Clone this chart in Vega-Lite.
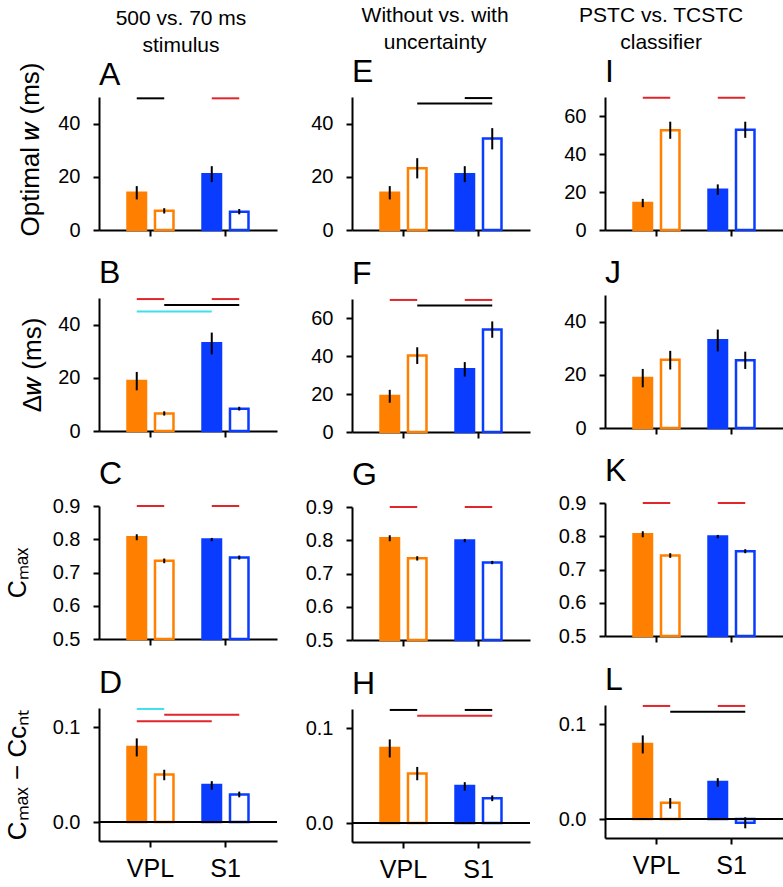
{
  "$schema": "https://vega.github.io/schema/vega-lite/v6.json",
  "padding": {"left": 4, "top": 4, "right": 0, "bottom": 0},
  "datasets": {
    "bars": [
      {"panel": "A", "group": "VPL", "cond": "filled", "mean": 14, "lo": 11.5, "hi": 16.5},
      {"panel": "A", "group": "VPL", "cond": "open", "mean": 7.2, "lo": 6.2, "hi": 8.2},
      {"panel": "A", "group": "S1", "cond": "filled", "mean": 21, "lo": 18, "hi": 24},
      {"panel": "A", "group": "S1", "cond": "open", "mean": 6.9, "lo": 5.9, "hi": 7.9},
      {"panel": "E", "group": "VPL", "cond": "filled", "mean": 14, "lo": 11.5, "hi": 16.5},
      {"panel": "E", "group": "VPL", "cond": "open", "mean": 23.2, "lo": 19.4, "hi": 27},
      {"panel": "E", "group": "S1", "cond": "filled", "mean": 21, "lo": 18, "hi": 24},
      {"panel": "E", "group": "S1", "cond": "open", "mean": 34.4, "lo": 30.3, "hi": 38.3},
      {"panel": "I", "group": "VPL", "cond": "filled", "mean": 14.2, "lo": 12, "hi": 16.4},
      {"panel": "I", "group": "VPL", "cond": "open", "mean": 52.5, "lo": 48, "hi": 57},
      {"panel": "I", "group": "S1", "cond": "filled", "mean": 21.2, "lo": 18.5, "hi": 24},
      {"panel": "I", "group": "S1", "cond": "open", "mean": 52.8, "lo": 48.5, "hi": 57},
      {"panel": "B", "group": "VPL", "cond": "filled", "mean": 18.8, "lo": 15.3, "hi": 22.2},
      {"panel": "B", "group": "VPL", "cond": "open", "mean": 6.6, "lo": 5.8, "hi": 7.4},
      {"panel": "B", "group": "S1", "cond": "filled", "mean": 33, "lo": 28.8, "hi": 37},
      {"panel": "B", "group": "S1", "cond": "open", "mean": 8.4, "lo": 7.7, "hi": 9.1},
      {"panel": "F", "group": "VPL", "cond": "filled", "mean": 19, "lo": 15.4, "hi": 22.2},
      {"panel": "F", "group": "VPL", "cond": "open", "mean": 40.3, "lo": 35.8, "hi": 44.6},
      {"panel": "F", "group": "S1", "cond": "filled", "mean": 33, "lo": 29.2, "hi": 36.8},
      {"panel": "F", "group": "S1", "cond": "open", "mean": 54, "lo": 49.6, "hi": 58.2},
      {"panel": "J", "group": "VPL", "cond": "filled", "mean": 18.8, "lo": 15.3, "hi": 22.2},
      {"panel": "J", "group": "VPL", "cond": "open", "mean": 25.7, "lo": 22, "hi": 29},
      {"panel": "J", "group": "S1", "cond": "filled", "mean": 33, "lo": 28.8, "hi": 37},
      {"panel": "J", "group": "S1", "cond": "open", "mean": 25.5, "lo": 22.2, "hi": 28.7},
      {"panel": "C", "group": "VPL", "cond": "filled", "mean": 0.806, "lo": 0.797, "hi": 0.815},
      {"panel": "C", "group": "VPL", "cond": "open", "mean": 0.735, "lo": 0.728, "hi": 0.742},
      {"panel": "C", "group": "S1", "cond": "filled", "mean": 0.799, "lo": 0.794, "hi": 0.804},
      {"panel": "C", "group": "S1", "cond": "open", "mean": 0.745, "lo": 0.739, "hi": 0.751},
      {"panel": "G", "group": "VPL", "cond": "filled", "mean": 0.806, "lo": 0.797, "hi": 0.815},
      {"panel": "G", "group": "VPL", "cond": "open", "mean": 0.746, "lo": 0.739, "hi": 0.752},
      {"panel": "G", "group": "S1", "cond": "filled", "mean": 0.799, "lo": 0.794, "hi": 0.804},
      {"panel": "G", "group": "S1", "cond": "open", "mean": 0.733, "lo": 0.728, "hi": 0.738},
      {"panel": "K", "group": "VPL", "cond": "filled", "mean": 0.806, "lo": 0.797, "hi": 0.815},
      {"panel": "K", "group": "VPL", "cond": "open", "mean": 0.742, "lo": 0.735, "hi": 0.749},
      {"panel": "K", "group": "S1", "cond": "filled", "mean": 0.799, "lo": 0.794, "hi": 0.804},
      {"panel": "K", "group": "S1", "cond": "open", "mean": 0.755, "lo": 0.749, "hi": 0.761},
      {"panel": "D", "group": "VPL", "cond": "filled", "mean": 0.079, "lo": 0.069, "hi": 0.088},
      {"panel": "D", "group": "VPL", "cond": "open", "mean": 0.05, "lo": 0.044, "hi": 0.055},
      {"panel": "D", "group": "S1", "cond": "filled", "mean": 0.039, "lo": 0.034, "hi": 0.043},
      {"panel": "D", "group": "S1", "cond": "open", "mean": 0.029, "lo": 0.026, "hi": 0.032},
      {"panel": "H", "group": "VPL", "cond": "filled", "mean": 0.079, "lo": 0.069, "hi": 0.088},
      {"panel": "H", "group": "VPL", "cond": "open", "mean": 0.052, "lo": 0.045, "hi": 0.059},
      {"panel": "H", "group": "S1", "cond": "filled", "mean": 0.039, "lo": 0.034, "hi": 0.043},
      {"panel": "H", "group": "S1", "cond": "open", "mean": 0.026, "lo": 0.023, "hi": 0.029},
      {"panel": "L", "group": "VPL", "cond": "filled", "mean": 0.079, "lo": 0.069, "hi": 0.088},
      {"panel": "L", "group": "VPL", "cond": "open", "mean": 0.017, "lo": 0.011, "hi": 0.022},
      {"panel": "L", "group": "S1", "cond": "filled", "mean": 0.039, "lo": 0.034, "hi": 0.043},
      {"panel": "L", "group": "S1", "cond": "open", "mean": -0.004, "lo": -0.0098, "hi": 0.0018}
    ],
    "sig": [
      {"panel": "A", "id": "A1", "group": "VPL", "cond": "filled", "level": 49.5, "test": "T2"},
      {"panel": "A", "id": "A1", "group": "VPL", "cond": "open", "level": 49.5, "test": "T2"},
      {"panel": "A", "id": "A2", "group": "S1", "cond": "filled", "level": 49.5, "test": "T1"},
      {"panel": "A", "id": "A2", "group": "S1", "cond": "open", "level": 49.5, "test": "T1"},
      {"panel": "E", "id": "E1", "group": "S1", "cond": "filled", "level": 49.6, "test": "T2"},
      {"panel": "E", "id": "E1", "group": "S1", "cond": "open", "level": 49.6, "test": "T2"},
      {"panel": "E", "id": "E2", "group": "VPL", "cond": "open", "level": 47.6, "test": "T2"},
      {"panel": "E", "id": "E2", "group": "S1", "cond": "open", "level": 47.6, "test": "T2"},
      {"panel": "I", "id": "I1", "group": "VPL", "cond": "filled", "level": 69.6, "test": "T1"},
      {"panel": "I", "id": "I1", "group": "VPL", "cond": "open", "level": 69.6, "test": "T1"},
      {"panel": "I", "id": "I2", "group": "S1", "cond": "filled", "level": 69.6, "test": "T1"},
      {"panel": "I", "id": "I2", "group": "S1", "cond": "open", "level": 69.6, "test": "T1"},
      {"panel": "B", "id": "B1", "group": "VPL", "cond": "filled", "level": 49.6, "test": "T1"},
      {"panel": "B", "id": "B1", "group": "VPL", "cond": "open", "level": 49.6, "test": "T1"},
      {"panel": "B", "id": "B2", "group": "S1", "cond": "filled", "level": 49.6, "test": "T1"},
      {"panel": "B", "id": "B2", "group": "S1", "cond": "open", "level": 49.6, "test": "T1"},
      {"panel": "B", "id": "B3", "group": "VPL", "cond": "open", "level": 47.4, "test": "T2"},
      {"panel": "B", "id": "B3", "group": "S1", "cond": "open", "level": 47.4, "test": "T2"},
      {"panel": "B", "id": "B4", "group": "VPL", "cond": "filled", "level": 44.9, "test": "T3"},
      {"panel": "B", "id": "B4", "group": "S1", "cond": "filled", "level": 44.9, "test": "T3"},
      {"panel": "F", "id": "F1", "group": "VPL", "cond": "filled", "level": 69.5, "test": "T1"},
      {"panel": "F", "id": "F1", "group": "VPL", "cond": "open", "level": 69.5, "test": "T1"},
      {"panel": "F", "id": "F2", "group": "S1", "cond": "filled", "level": 69.5, "test": "T1"},
      {"panel": "F", "id": "F2", "group": "S1", "cond": "open", "level": 69.5, "test": "T1"},
      {"panel": "F", "id": "F3", "group": "VPL", "cond": "open", "level": 66.6, "test": "T2"},
      {"panel": "F", "id": "F3", "group": "S1", "cond": "open", "level": 66.6, "test": "T2"},
      {"panel": "C", "id": "C1", "group": "VPL", "cond": "filled", "level": 0.9, "test": "T1"},
      {"panel": "C", "id": "C1", "group": "VPL", "cond": "open", "level": 0.9, "test": "T1"},
      {"panel": "C", "id": "C2", "group": "S1", "cond": "filled", "level": 0.9, "test": "T1"},
      {"panel": "C", "id": "C2", "group": "S1", "cond": "open", "level": 0.9, "test": "T1"},
      {"panel": "G", "id": "G1", "group": "VPL", "cond": "filled", "level": 0.9, "test": "T1"},
      {"panel": "G", "id": "G1", "group": "VPL", "cond": "open", "level": 0.9, "test": "T1"},
      {"panel": "G", "id": "G2", "group": "S1", "cond": "filled", "level": 0.9, "test": "T1"},
      {"panel": "G", "id": "G2", "group": "S1", "cond": "open", "level": 0.9, "test": "T1"},
      {"panel": "K", "id": "K1", "group": "VPL", "cond": "filled", "level": 0.9, "test": "T1"},
      {"panel": "K", "id": "K1", "group": "VPL", "cond": "open", "level": 0.9, "test": "T1"},
      {"panel": "K", "id": "K2", "group": "S1", "cond": "filled", "level": 0.9, "test": "T1"},
      {"panel": "K", "id": "K2", "group": "S1", "cond": "open", "level": 0.9, "test": "T1"},
      {"panel": "D", "id": "D1", "group": "VPL", "cond": "filled", "level": 0.119, "test": "T3"},
      {"panel": "D", "id": "D1", "group": "VPL", "cond": "open", "level": 0.119, "test": "T3"},
      {"panel": "D", "id": "D2", "group": "VPL", "cond": "open", "level": 0.113, "test": "T1"},
      {"panel": "D", "id": "D2", "group": "S1", "cond": "open", "level": 0.113, "test": "T1"},
      {"panel": "D", "id": "D3", "group": "VPL", "cond": "filled", "level": 0.106, "test": "T1"},
      {"panel": "D", "id": "D3", "group": "S1", "cond": "filled", "level": 0.106, "test": "T1"},
      {"panel": "H", "id": "H1", "group": "VPL", "cond": "filled", "level": 0.119, "test": "T2"},
      {"panel": "H", "id": "H1", "group": "VPL", "cond": "open", "level": 0.119, "test": "T2"},
      {"panel": "H", "id": "H2", "group": "S1", "cond": "filled", "level": 0.119, "test": "T2"},
      {"panel": "H", "id": "H2", "group": "S1", "cond": "open", "level": 0.119, "test": "T2"},
      {"panel": "H", "id": "H3", "group": "VPL", "cond": "open", "level": 0.1128, "test": "T1"},
      {"panel": "H", "id": "H3", "group": "S1", "cond": "open", "level": 0.1128, "test": "T1"},
      {"panel": "L", "id": "L1", "group": "VPL", "cond": "filled", "level": 0.119, "test": "T1"},
      {"panel": "L", "id": "L1", "group": "VPL", "cond": "open", "level": 0.119, "test": "T1"},
      {"panel": "L", "id": "L2", "group": "S1", "cond": "filled", "level": 0.119, "test": "T1"},
      {"panel": "L", "id": "L2", "group": "S1", "cond": "open", "level": 0.119, "test": "T1"},
      {"panel": "L", "id": "L3", "group": "VPL", "cond": "open", "level": 0.1128, "test": "T2"},
      {"panel": "L", "id": "L3", "group": "S1", "cond": "open", "level": 0.1128, "test": "T2"}
    ]
  },
  "spacing": 27,
  "hconcat": [
    {
      "title": {"text": ["500 vs. 70 ms", "stimulus"], "frame": "bounds", "anchor": "middle", "fontSize": 21, "lineHeight": 27, "offset": 3, "dx": 40},
      "spacing": 17,
      "vconcat": [
        {"width": 178, "height": 133, "title": {"text": "A", "offset": -30}, "layer": [
          {"data": {"name": "bars"}, "transform": [{"filter": "datum.panel === 'A'"}], "mark": {"type": "bar", "strokeWidth": 2.5},
           "encoding": {
             "x": {"field": "group", "type": "nominal", "scale": {"domain": ["VPL", "S1"], "paddingInner": 0.387, "paddingOuter": 0.38}, "axis": {"title": null, "labels": false}},
             "xOffset": {"field": "cond", "type": "nominal", "scale": {"domain": ["filled", "open"], "paddingInner": 0.327, "paddingOuter": 0}},
             "y": {"field": "mean", "type": "quantitative", "scale": {"domain": [0, 50], "nice": false}, "axis": {"title": "Optimal 𝑤 (ms)", "values": [0, 20, 40], "titleX": -61, "titleY": 52, "titleBaseline": "alphabetic", "titleFontSize": 26}},
             "fill": {"condition": {"test": "datum.cond === 'open'", "value": "white"}, "field": "group", "type": "nominal", "scale": {"domain": ["VPL", "S1"], "range": ["#ff8000", "#0a3cff"]}, "legend": null},
             "stroke": {"field": "group", "type": "nominal", "scale": {"domain": ["VPL", "S1"], "range": ["#ff8000", "#0a3cff"]}, "legend": null}
           }},
          {"data": {"name": "bars"}, "transform": [{"filter": "datum.panel === 'A'"}], "mark": {"type": "rule", "strokeWidth": 2, "color": "black"},
           "encoding": {"x": {"field": "group", "type": "nominal"}, "xOffset": {"field": "cond", "type": "nominal"}, "y": {"field": "lo", "type": "quantitative"}, "y2": {"field": "hi"}}},
          {"data": {"name": "sig"}, "transform": [{"filter": "datum.panel === 'A'"}], "mark": {"type": "line", "strokeWidth": 2},
           "encoding": {"x": {"field": "group", "type": "nominal"}, "xOffset": {"field": "cond", "type": "nominal"}, "y": {"field": "level", "type": "quantitative"}, "detail": {"field": "id", "type": "nominal"}, "color": {"field": "test", "type": "nominal", "scale": {"domain": ["T1", "T2", "T3"], "range": ["#e0262b", "#000000", "#40e0e8"]}, "legend": null}}}
        ]},
        {"width": 178, "height": 133, "title": "B", "layer": [
          {"data": {"name": "bars"}, "transform": [{"filter": "datum.panel === 'B'"}], "mark": {"type": "bar", "strokeWidth": 2.5},
           "encoding": {
             "x": {"field": "group", "type": "nominal", "scale": {"domain": ["VPL", "S1"], "paddingInner": 0.387, "paddingOuter": 0.38}, "axis": {"title": null, "labels": false}},
             "xOffset": {"field": "cond", "type": "nominal", "scale": {"domain": ["filled", "open"], "paddingInner": 0.327, "paddingOuter": 0}},
             "y": {"field": "mean", "type": "quantitative", "scale": {"domain": [0, 50], "nice": false}, "axis": {"title": "Δ𝑤 (ms)", "values": [0, 20, 40], "titleX": -59, "titleBaseline": "alphabetic", "titleFontSize": 26}},
             "fill": {"condition": {"test": "datum.cond === 'open'", "value": "white"}, "field": "group", "type": "nominal", "scale": {"domain": ["VPL", "S1"], "range": ["#ff8000", "#0a3cff"]}, "legend": null},
             "stroke": {"field": "group", "type": "nominal", "scale": {"domain": ["VPL", "S1"], "range": ["#ff8000", "#0a3cff"]}, "legend": null}
           }},
          {"data": {"name": "bars"}, "transform": [{"filter": "datum.panel === 'B'"}], "mark": {"type": "rule", "strokeWidth": 2, "color": "black"},
           "encoding": {"x": {"field": "group", "type": "nominal"}, "xOffset": {"field": "cond", "type": "nominal"}, "y": {"field": "lo", "type": "quantitative"}, "y2": {"field": "hi"}}},
          {"data": {"name": "sig"}, "transform": [{"filter": "datum.panel === 'B'"}], "mark": {"type": "line", "strokeWidth": 2},
           "encoding": {"x": {"field": "group", "type": "nominal"}, "xOffset": {"field": "cond", "type": "nominal"}, "y": {"field": "level", "type": "quantitative"}, "detail": {"field": "id", "type": "nominal"}, "color": {"field": "test", "type": "nominal", "scale": {"domain": ["T1", "T2", "T3"], "range": ["#e0262b", "#000000", "#40e0e8"]}, "legend": null}}}
        ]},
        {"width": 178, "height": 133, "title": "C", "layer": [
          {"data": {"name": "bars"}, "transform": [{"filter": "datum.panel === 'C'"}], "mark": {"type": "bar", "strokeWidth": 2.5},
           "encoding": {
             "x": {"field": "group", "type": "nominal", "scale": {"domain": ["VPL", "S1"], "paddingInner": 0.387, "paddingOuter": 0.38}, "axis": {"title": null, "labels": false}},
             "xOffset": {"field": "cond", "type": "nominal", "scale": {"domain": ["filled", "open"], "paddingInner": 0.327, "paddingOuter": 0}},
             "y": {"field": "mean", "type": "quantitative", "scale": {"domain": [0.5, 0.9], "nice": false, "zero": false}, "axis": {"title": "Cₘₐₓ", "values": [0.5, 0.6, 0.7, 0.8, 0.9], "tickCount": 8, "format": ".1f", "titleX": -74, "titleBaseline": "alphabetic", "titleFontSize": 25}},
             "y2": {"datum": 0.5},
             "fill": {"condition": {"test": "datum.cond === 'open'", "value": "white"}, "field": "group", "type": "nominal", "scale": {"domain": ["VPL", "S1"], "range": ["#ff8000", "#0a3cff"]}, "legend": null},
             "stroke": {"field": "group", "type": "nominal", "scale": {"domain": ["VPL", "S1"], "range": ["#ff8000", "#0a3cff"]}, "legend": null}
           }},
          {"data": {"name": "bars"}, "transform": [{"filter": "datum.panel === 'C'"}], "mark": {"type": "rule", "strokeWidth": 2, "color": "black"},
           "encoding": {"x": {"field": "group", "type": "nominal"}, "xOffset": {"field": "cond", "type": "nominal"}, "y": {"field": "lo", "type": "quantitative"}, "y2": {"field": "hi"}}},
          {"data": {"name": "sig"}, "transform": [{"filter": "datum.panel === 'C'"}], "mark": {"type": "line", "strokeWidth": 2},
           "encoding": {"x": {"field": "group", "type": "nominal"}, "xOffset": {"field": "cond", "type": "nominal"}, "y": {"field": "level", "type": "quantitative"}, "detail": {"field": "id", "type": "nominal"}, "color": {"field": "test", "type": "nominal", "scale": {"domain": ["T1", "T2", "T3"], "range": ["#e0262b", "#000000", "#40e0e8"]}, "legend": null}}}
        ]},
        {"width": 178, "height": 133, "title": "D", "layer": [
          {"data": {"name": "bars"}, "transform": [{"filter": "datum.panel === 'D'"}], "mark": {"type": "bar", "strokeWidth": 2.5},
           "encoding": {
             "x": {"field": "group", "type": "nominal", "scale": {"domain": ["VPL", "S1"], "paddingInner": 0.387, "paddingOuter": 0.38}, "axis": {"title": null, "labelAngle": 0, "labelFontSize": 25, "labelPadding": 9}},
             "xOffset": {"field": "cond", "type": "nominal", "scale": {"domain": ["filled", "open"], "paddingInner": 0.327, "paddingOuter": 0}},
             "y": {"field": "mean", "type": "quantitative", "scale": {"domain": [-0.02, 0.12], "nice": false, "zero": false}, "axis": {"title": "Cₘₐₓ − Cᴄₙₜ", "values": [0, 0.1], "format": ".1f", "titleX": -74, "titleBaseline": "alphabetic", "titleFontSize": 26}},
             "y2": {"datum": 0},
             "fill": {"condition": {"test": "datum.cond === 'open'", "value": "white"}, "field": "group", "type": "nominal", "scale": {"domain": ["VPL", "S1"], "range": ["#ff8000", "#0a3cff"]}, "legend": null},
             "stroke": {"field": "group", "type": "nominal", "scale": {"domain": ["VPL", "S1"], "range": ["#ff8000", "#0a3cff"]}, "legend": null}
           }},
          {"data": {"name": "bars"}, "transform": [{"filter": "datum.panel === 'D'"}], "mark": {"type": "rule", "strokeWidth": 2, "color": "black"},
           "encoding": {"x": {"field": "group", "type": "nominal"}, "xOffset": {"field": "cond", "type": "nominal"}, "y": {"field": "lo", "type": "quantitative"}, "y2": {"field": "hi"}}},
          {"data": {"name": "sig"}, "transform": [{"filter": "datum.panel === 'D'"}], "mark": {"type": "line", "strokeWidth": 2},
           "encoding": {"x": {"field": "group", "type": "nominal"}, "xOffset": {"field": "cond", "type": "nominal"}, "y": {"field": "level", "type": "quantitative"}, "detail": {"field": "id", "type": "nominal"}, "color": {"field": "test", "type": "nominal", "scale": {"domain": ["T1", "T2", "T3"], "range": ["#e0262b", "#000000", "#40e0e8"]}, "legend": null}}},
          {"data": {"values": [{"zero": 0}]}, "mark": {"type": "rule", "strokeWidth": 2, "color": "black"}, "encoding": {"y": {"field": "zero", "type": "quantitative"}}}
        ]}
      ]
    },
    {
      "title": {"text": ["Without vs. with", "uncertainty"], "frame": "bounds", "anchor": "middle", "fontSize": 21, "lineHeight": 27, "offset": 3, "dx": 17},
      "spacing": 17,
      "vconcat": [
        {"width": 178, "height": 133, "title": "E", "layer": [
          {"data": {"name": "bars"}, "transform": [{"filter": "datum.panel === 'E'"}], "mark": {"type": "bar", "strokeWidth": 2.5},
           "encoding": {
             "x": {"field": "group", "type": "nominal", "scale": {"domain": ["VPL", "S1"], "paddingInner": 0.387, "paddingOuter": 0.38}, "axis": {"title": null, "labels": false}},
             "xOffset": {"field": "cond", "type": "nominal", "scale": {"domain": ["filled", "open"], "paddingInner": 0.327, "paddingOuter": 0}},
             "y": {"field": "mean", "type": "quantitative", "scale": {"domain": [0, 50], "nice": false}, "axis": {"title": null, "values": [0, 20, 40]}},
             "fill": {"condition": {"test": "datum.cond === 'open'", "value": "white"}, "field": "group", "type": "nominal", "scale": {"domain": ["VPL", "S1"], "range": ["#ff8000", "#0a3cff"]}, "legend": null},
             "stroke": {"field": "group", "type": "nominal", "scale": {"domain": ["VPL", "S1"], "range": ["#ff8000", "#0a3cff"]}, "legend": null}
           }},
          {"data": {"name": "bars"}, "transform": [{"filter": "datum.panel === 'E'"}], "mark": {"type": "rule", "strokeWidth": 2, "color": "black"},
           "encoding": {"x": {"field": "group", "type": "nominal"}, "xOffset": {"field": "cond", "type": "nominal"}, "y": {"field": "lo", "type": "quantitative"}, "y2": {"field": "hi"}}},
          {"data": {"name": "sig"}, "transform": [{"filter": "datum.panel === 'E'"}], "mark": {"type": "line", "strokeWidth": 2},
           "encoding": {"x": {"field": "group", "type": "nominal"}, "xOffset": {"field": "cond", "type": "nominal"}, "y": {"field": "level", "type": "quantitative"}, "detail": {"field": "id", "type": "nominal"}, "color": {"field": "test", "type": "nominal", "scale": {"domain": ["T1", "T2", "T3"], "range": ["#e0262b", "#000000", "#40e0e8"]}, "legend": null}}}
        ]},
        {"width": 178, "height": 133, "title": "F", "layer": [
          {"data": {"name": "bars"}, "transform": [{"filter": "datum.panel === 'F'"}], "mark": {"type": "bar", "strokeWidth": 2.5},
           "encoding": {
             "x": {"field": "group", "type": "nominal", "scale": {"domain": ["VPL", "S1"], "paddingInner": 0.387, "paddingOuter": 0.38}, "axis": {"title": null, "labels": false}},
             "xOffset": {"field": "cond", "type": "nominal", "scale": {"domain": ["filled", "open"], "paddingInner": 0.327, "paddingOuter": 0}},
             "y": {"field": "mean", "type": "quantitative", "scale": {"domain": [0, 70], "nice": false}, "axis": {"title": null, "values": [0, 20, 40, 60]}},
             "fill": {"condition": {"test": "datum.cond === 'open'", "value": "white"}, "field": "group", "type": "nominal", "scale": {"domain": ["VPL", "S1"], "range": ["#ff8000", "#0a3cff"]}, "legend": null},
             "stroke": {"field": "group", "type": "nominal", "scale": {"domain": ["VPL", "S1"], "range": ["#ff8000", "#0a3cff"]}, "legend": null}
           }},
          {"data": {"name": "bars"}, "transform": [{"filter": "datum.panel === 'F'"}], "mark": {"type": "rule", "strokeWidth": 2, "color": "black"},
           "encoding": {"x": {"field": "group", "type": "nominal"}, "xOffset": {"field": "cond", "type": "nominal"}, "y": {"field": "lo", "type": "quantitative"}, "y2": {"field": "hi"}}},
          {"data": {"name": "sig"}, "transform": [{"filter": "datum.panel === 'F'"}], "mark": {"type": "line", "strokeWidth": 2},
           "encoding": {"x": {"field": "group", "type": "nominal"}, "xOffset": {"field": "cond", "type": "nominal"}, "y": {"field": "level", "type": "quantitative"}, "detail": {"field": "id", "type": "nominal"}, "color": {"field": "test", "type": "nominal", "scale": {"domain": ["T1", "T2", "T3"], "range": ["#e0262b", "#000000", "#40e0e8"]}, "legend": null}}}
        ]},
        {"width": 178, "height": 133, "title": "G", "layer": [
          {"data": {"name": "bars"}, "transform": [{"filter": "datum.panel === 'G'"}], "mark": {"type": "bar", "strokeWidth": 2.5},
           "encoding": {
             "x": {"field": "group", "type": "nominal", "scale": {"domain": ["VPL", "S1"], "paddingInner": 0.387, "paddingOuter": 0.38}, "axis": {"title": null, "labels": false}},
             "xOffset": {"field": "cond", "type": "nominal", "scale": {"domain": ["filled", "open"], "paddingInner": 0.327, "paddingOuter": 0}},
             "y": {"field": "mean", "type": "quantitative", "scale": {"domain": [0.5, 0.9], "nice": false, "zero": false}, "axis": {"title": null, "values": [0.5, 0.6, 0.7, 0.8, 0.9], "tickCount": 8, "format": ".1f"}},
             "y2": {"datum": 0.5},
             "fill": {"condition": {"test": "datum.cond === 'open'", "value": "white"}, "field": "group", "type": "nominal", "scale": {"domain": ["VPL", "S1"], "range": ["#ff8000", "#0a3cff"]}, "legend": null},
             "stroke": {"field": "group", "type": "nominal", "scale": {"domain": ["VPL", "S1"], "range": ["#ff8000", "#0a3cff"]}, "legend": null}
           }},
          {"data": {"name": "bars"}, "transform": [{"filter": "datum.panel === 'G'"}], "mark": {"type": "rule", "strokeWidth": 2, "color": "black"},
           "encoding": {"x": {"field": "group", "type": "nominal"}, "xOffset": {"field": "cond", "type": "nominal"}, "y": {"field": "lo", "type": "quantitative"}, "y2": {"field": "hi"}}},
          {"data": {"name": "sig"}, "transform": [{"filter": "datum.panel === 'G'"}], "mark": {"type": "line", "strokeWidth": 2},
           "encoding": {"x": {"field": "group", "type": "nominal"}, "xOffset": {"field": "cond", "type": "nominal"}, "y": {"field": "level", "type": "quantitative"}, "detail": {"field": "id", "type": "nominal"}, "color": {"field": "test", "type": "nominal", "scale": {"domain": ["T1", "T2", "T3"], "range": ["#e0262b", "#000000", "#40e0e8"]}, "legend": null}}}
        ]},
        {"width": 178, "height": 133, "title": "H", "layer": [
          {"data": {"name": "bars"}, "transform": [{"filter": "datum.panel === 'H'"}], "mark": {"type": "bar", "strokeWidth": 2.5},
           "encoding": {
             "x": {"field": "group", "type": "nominal", "scale": {"domain": ["VPL", "S1"], "paddingInner": 0.387, "paddingOuter": 0.38}, "axis": {"title": null, "labelAngle": 0, "labelFontSize": 25, "labelPadding": 9}},
             "xOffset": {"field": "cond", "type": "nominal", "scale": {"domain": ["filled", "open"], "paddingInner": 0.327, "paddingOuter": 0}},
             "y": {"field": "mean", "type": "quantitative", "scale": {"domain": [-0.02, 0.12], "nice": false, "zero": false}, "axis": {"title": null, "values": [0, 0.1], "format": ".1f"}},
             "y2": {"datum": 0},
             "fill": {"condition": {"test": "datum.cond === 'open'", "value": "white"}, "field": "group", "type": "nominal", "scale": {"domain": ["VPL", "S1"], "range": ["#ff8000", "#0a3cff"]}, "legend": null},
             "stroke": {"field": "group", "type": "nominal", "scale": {"domain": ["VPL", "S1"], "range": ["#ff8000", "#0a3cff"]}, "legend": null}
           }},
          {"data": {"name": "bars"}, "transform": [{"filter": "datum.panel === 'H'"}], "mark": {"type": "rule", "strokeWidth": 2, "color": "black"},
           "encoding": {"x": {"field": "group", "type": "nominal"}, "xOffset": {"field": "cond", "type": "nominal"}, "y": {"field": "lo", "type": "quantitative"}, "y2": {"field": "hi"}}},
          {"data": {"name": "sig"}, "transform": [{"filter": "datum.panel === 'H'"}], "mark": {"type": "line", "strokeWidth": 2},
           "encoding": {"x": {"field": "group", "type": "nominal"}, "xOffset": {"field": "cond", "type": "nominal"}, "y": {"field": "level", "type": "quantitative"}, "detail": {"field": "id", "type": "nominal"}, "color": {"field": "test", "type": "nominal", "scale": {"domain": ["T1", "T2", "T3"], "range": ["#e0262b", "#000000", "#40e0e8"]}, "legend": null}}},
          {"data": {"values": [{"zero": 0}]}, "mark": {"type": "rule", "strokeWidth": 2, "color": "black"}, "encoding": {"y": {"field": "zero", "type": "quantitative"}}}
        ]}
      ]
    },
    {
      "title": {"text": ["PSTC vs. TCSTC", "classifier"], "frame": "bounds", "anchor": "middle", "fontSize": 21, "lineHeight": 27, "offset": 3, "dx": -10},
      "spacing": 17,
      "vconcat": [
        {"width": 178, "height": 133, "title": "I", "layer": [
          {"data": {"name": "bars"}, "transform": [{"filter": "datum.panel === 'I'"}], "mark": {"type": "bar", "strokeWidth": 2.5},
           "encoding": {
             "x": {"field": "group", "type": "nominal", "scale": {"domain": ["VPL", "S1"], "paddingInner": 0.387, "paddingOuter": 0.38}, "axis": {"title": null, "labels": false}},
             "xOffset": {"field": "cond", "type": "nominal", "scale": {"domain": ["filled", "open"], "paddingInner": 0.327, "paddingOuter": 0}},
             "y": {"field": "mean", "type": "quantitative", "scale": {"domain": [0, 70], "nice": false}, "axis": {"title": null, "values": [0, 20, 40, 60]}},
             "fill": {"condition": {"test": "datum.cond === 'open'", "value": "white"}, "field": "group", "type": "nominal", "scale": {"domain": ["VPL", "S1"], "range": ["#ff8000", "#0a3cff"]}, "legend": null},
             "stroke": {"field": "group", "type": "nominal", "scale": {"domain": ["VPL", "S1"], "range": ["#ff8000", "#0a3cff"]}, "legend": null}
           }},
          {"data": {"name": "bars"}, "transform": [{"filter": "datum.panel === 'I'"}], "mark": {"type": "rule", "strokeWidth": 2, "color": "black"},
           "encoding": {"x": {"field": "group", "type": "nominal"}, "xOffset": {"field": "cond", "type": "nominal"}, "y": {"field": "lo", "type": "quantitative"}, "y2": {"field": "hi"}}},
          {"data": {"name": "sig"}, "transform": [{"filter": "datum.panel === 'I'"}], "mark": {"type": "line", "strokeWidth": 2},
           "encoding": {"x": {"field": "group", "type": "nominal"}, "xOffset": {"field": "cond", "type": "nominal"}, "y": {"field": "level", "type": "quantitative"}, "detail": {"field": "id", "type": "nominal"}, "color": {"field": "test", "type": "nominal", "scale": {"domain": ["T1", "T2", "T3"], "range": ["#e0262b", "#000000", "#40e0e8"]}, "legend": null}}}
        ]},
        {"width": 178, "height": 133, "title": "J", "layer": [
          {"data": {"name": "bars"}, "transform": [{"filter": "datum.panel === 'J'"}], "mark": {"type": "bar", "strokeWidth": 2.5},
           "encoding": {
             "x": {"field": "group", "type": "nominal", "scale": {"domain": ["VPL", "S1"], "paddingInner": 0.387, "paddingOuter": 0.38}, "axis": {"title": null, "labels": false}},
             "xOffset": {"field": "cond", "type": "nominal", "scale": {"domain": ["filled", "open"], "paddingInner": 0.327, "paddingOuter": 0}},
             "y": {"field": "mean", "type": "quantitative", "scale": {"domain": [0, 50], "nice": false}, "axis": {"title": null, "values": [0, 20, 40]}},
             "fill": {"condition": {"test": "datum.cond === 'open'", "value": "white"}, "field": "group", "type": "nominal", "scale": {"domain": ["VPL", "S1"], "range": ["#ff8000", "#0a3cff"]}, "legend": null},
             "stroke": {"field": "group", "type": "nominal", "scale": {"domain": ["VPL", "S1"], "range": ["#ff8000", "#0a3cff"]}, "legend": null}
           }},
          {"data": {"name": "bars"}, "transform": [{"filter": "datum.panel === 'J'"}], "mark": {"type": "rule", "strokeWidth": 2, "color": "black"},
           "encoding": {"x": {"field": "group", "type": "nominal"}, "xOffset": {"field": "cond", "type": "nominal"}, "y": {"field": "lo", "type": "quantitative"}, "y2": {"field": "hi"}}}
        ]},
        {"width": 178, "height": 133, "title": "K", "layer": [
          {"data": {"name": "bars"}, "transform": [{"filter": "datum.panel === 'K'"}], "mark": {"type": "bar", "strokeWidth": 2.5},
           "encoding": {
             "x": {"field": "group", "type": "nominal", "scale": {"domain": ["VPL", "S1"], "paddingInner": 0.387, "paddingOuter": 0.38}, "axis": {"title": null, "labels": false}},
             "xOffset": {"field": "cond", "type": "nominal", "scale": {"domain": ["filled", "open"], "paddingInner": 0.327, "paddingOuter": 0}},
             "y": {"field": "mean", "type": "quantitative", "scale": {"domain": [0.5, 0.9], "nice": false, "zero": false}, "axis": {"title": null, "values": [0.5, 0.6, 0.7, 0.8, 0.9], "tickCount": 8, "format": ".1f"}},
             "y2": {"datum": 0.5},
             "fill": {"condition": {"test": "datum.cond === 'open'", "value": "white"}, "field": "group", "type": "nominal", "scale": {"domain": ["VPL", "S1"], "range": ["#ff8000", "#0a3cff"]}, "legend": null},
             "stroke": {"field": "group", "type": "nominal", "scale": {"domain": ["VPL", "S1"], "range": ["#ff8000", "#0a3cff"]}, "legend": null}
           }},
          {"data": {"name": "bars"}, "transform": [{"filter": "datum.panel === 'K'"}], "mark": {"type": "rule", "strokeWidth": 2, "color": "black"},
           "encoding": {"x": {"field": "group", "type": "nominal"}, "xOffset": {"field": "cond", "type": "nominal"}, "y": {"field": "lo", "type": "quantitative"}, "y2": {"field": "hi"}}},
          {"data": {"name": "sig"}, "transform": [{"filter": "datum.panel === 'K'"}], "mark": {"type": "line", "strokeWidth": 2},
           "encoding": {"x": {"field": "group", "type": "nominal"}, "xOffset": {"field": "cond", "type": "nominal"}, "y": {"field": "level", "type": "quantitative"}, "detail": {"field": "id", "type": "nominal"}, "color": {"field": "test", "type": "nominal", "scale": {"domain": ["T1", "T2", "T3"], "range": ["#e0262b", "#000000", "#40e0e8"]}, "legend": null}}}
        ]},
        {"width": 178, "height": 133, "title": "L", "layer": [
          {"data": {"name": "bars"}, "transform": [{"filter": "datum.panel === 'L'"}], "mark": {"type": "bar", "strokeWidth": 2.5},
           "encoding": {
             "x": {"field": "group", "type": "nominal", "scale": {"domain": ["VPL", "S1"], "paddingInner": 0.387, "paddingOuter": 0.38}, "axis": {"title": null, "labelAngle": 0, "labelFontSize": 25, "labelPadding": 9}},
             "xOffset": {"field": "cond", "type": "nominal", "scale": {"domain": ["filled", "open"], "paddingInner": 0.327, "paddingOuter": 0}},
             "y": {"field": "mean", "type": "quantitative", "scale": {"domain": [-0.02, 0.12], "nice": false, "zero": false}, "axis": {"title": null, "values": [0, 0.1], "format": ".1f"}},
             "y2": {"datum": 0},
             "fill": {"condition": {"test": "datum.cond === 'open'", "value": "white"}, "field": "group", "type": "nominal", "scale": {"domain": ["VPL", "S1"], "range": ["#ff8000", "#0a3cff"]}, "legend": null},
             "stroke": {"field": "group", "type": "nominal", "scale": {"domain": ["VPL", "S1"], "range": ["#ff8000", "#0a3cff"]}, "legend": null}
           }},
          {"data": {"name": "bars"}, "transform": [{"filter": "datum.panel === 'L'"}], "mark": {"type": "rule", "strokeWidth": 2, "color": "black"},
           "encoding": {"x": {"field": "group", "type": "nominal"}, "xOffset": {"field": "cond", "type": "nominal"}, "y": {"field": "lo", "type": "quantitative"}, "y2": {"field": "hi"}}},
          {"data": {"name": "sig"}, "transform": [{"filter": "datum.panel === 'L'"}], "mark": {"type": "line", "strokeWidth": 2},
           "encoding": {"x": {"field": "group", "type": "nominal"}, "xOffset": {"field": "cond", "type": "nominal"}, "y": {"field": "level", "type": "quantitative"}, "detail": {"field": "id", "type": "nominal"}, "color": {"field": "test", "type": "nominal", "scale": {"domain": ["T1", "T2", "T3"], "range": ["#e0262b", "#000000", "#40e0e8"]}, "legend": null}}},
          {"data": {"values": [{"zero": 0}]}, "mark": {"type": "rule", "strokeWidth": 2, "color": "black"}, "encoding": {"y": {"field": "zero", "type": "quantitative"}}}
        ]}
      ]
    }
  ],
  "config": {
    "font": "Liberation Sans",
    "view": {"stroke": null},
    "axis": {"grid": false, "domainColor": "black", "domainWidth": 2, "tickColor": "black", "tickWidth": 2, "tickSize": 6, "labelColor": "black", "labelFontSize": 20, "labelPadding": 13, "labelOverlap": false, "titleColor": "black", "titleFontWeight": "normal"},
    "title": {"fontSize": 32, "fontWeight": "normal", "anchor": "start", "frame": "group", "offset": 5, "color": "black"}
  }
}
